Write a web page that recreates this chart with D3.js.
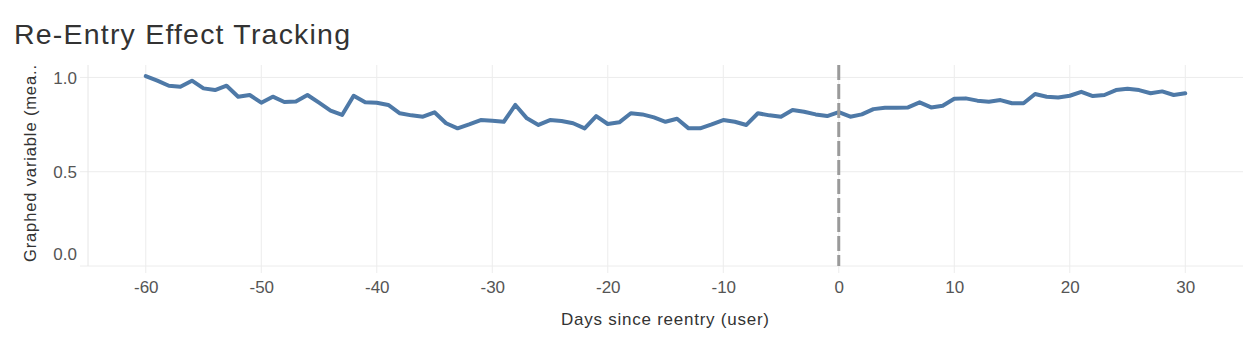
<!DOCTYPE html>
<html>
<head>
<meta charset="utf-8">
<script src="https://cdn.jsdelivr.net/npm/d3@7/dist/d3.min.js"></script>
<style>
  html, body { margin: 0; padding: 0; background: #fff; }
  svg { display: block; font-family: "Liberation Sans", Arial, Helvetica, sans-serif; }
</style>
</head>
<body>
<svg id="chart" width="1248" height="346"></svg>
<script>
// Day offsets relative to the re-entry date
const days = d3.range(-60, 31);

// Tracked value for each day (-60 .. 30)
const values = [
  1.007, 0.983, 0.956, 0.951, 0.983, 0.942, 0.933, 0.956, 0.898, 0.907,
  0.866, 0.898, 0.870, 0.873, 0.907, 0.866, 0.824, 0.801, 0.903, 0.868,
  0.866, 0.854, 0.810, 0.799, 0.792, 0.815, 0.757, 0.730, 0.751, 0.774,
  0.770, 0.765, 0.854, 0.783, 0.748, 0.774, 0.769, 0.757, 0.730, 0.795,
  0.753, 0.762, 0.810, 0.804, 0.788, 0.765, 0.781, 0.730, 0.730, 0.751,
  0.774, 0.765, 0.748, 0.810, 0.799, 0.792, 0.827, 0.818, 0.804, 0.795,
  0.816, 0.792, 0.804, 0.832, 0.839, 0.839, 0.841, 0.868, 0.841, 0.850,
  0.887, 0.889, 0.877, 0.871, 0.880, 0.863, 0.863, 0.912, 0.898, 0.894,
  0.903, 0.924, 0.901, 0.907, 0.933, 0.940, 0.933, 0.916, 0.926, 0.907,
  0.916
];

const xTicks = [-60, -50, -40, -30, -20, -10, 0, 10, 20, 30];
const yTicks = [0.0, 0.5, 1.0];
const reentryDay = 0;

const titleText = "Re-Entry Effect Tracking";
const xTitle = "Days since reentry (user)";
const yTitle = "Graphed variable (mea..";

const data = days.map((d, i) => ({ day: d, value: values[i] }));

const svg = d3.select("#chart");
const plot = { left: 88, right: 1243, top: 65, bottom: 266 };

const x = d3.scaleLinear().domain([-65, 35]).range([plot.left, plot.right]);
const y = d3.scaleLinear().domain([0, 1.066]).range([plot.bottom, plot.top]);

// Plain hyphen for negative numbers
const fmtDay = d => String(d);

// Title
svg.append("text")
  .attr("x", 14).attr("y", 44)
  .attr("font-size", 28.5)
  .attr("textLength", 336).attr("lengthAdjust", "spacing")
  .attr("fill", "#333")
  .text(titleText);

// Vertical grid lines (extend below the plot as tick marks)
svg.append("g")
  .selectAll("line")
  .data(xTicks)
  .join("line")
  .attr("x1", d => x(d)).attr("x2", d => x(d))
  .attr("y1", plot.top).attr("y2", plot.bottom + 7)
  .attr("stroke", "#ececec").attr("stroke-width", 1);

// Horizontal grid lines (extend left of the plot as tick marks)
svg.append("g")
  .selectAll("line")
  .data(yTicks)
  .join("line")
  .attr("x1", plot.left - 8).attr("x2", plot.right)
  .attr("y1", d => y(d)).attr("y2", d => y(d))
  .attr("stroke", "#ececec").attr("stroke-width", 1);

// Left axis rule
svg.append("line")
  .attr("x1", plot.left).attr("x2", plot.left)
  .attr("y1", plot.top).attr("y2", plot.bottom)
  .attr("stroke", "#e6e6e6").attr("stroke-width", 1);

// X tick labels
const xAxis = d3.axisBottom(x).tickValues(xTicks).tickSize(0).tickPadding(0)
  .tickFormat(fmtDay);
const gx = svg.append("g").attr("transform", `translate(0,${plot.bottom})`).call(xAxis);
gx.select(".domain").remove();
gx.selectAll("text")
  .attr("y", 27).attr("dy", 0)
  .attr("font-size", 17)
  .attr("font-family", "Liberation Sans, Arial, sans-serif")
  .attr("fill", "#555");

// Y tick labels (the bottom label sits just above its grid line)
const yAxis = d3.axisLeft(y).tickValues(yTicks).tickSize(0).tickPadding(0)
  .tickFormat(d3.format(".1f"));
const gy = svg.append("g").attr("transform", `translate(${plot.left - 11},0)`).call(yAxis);
gy.select(".domain").remove();
gy.selectAll("text")
  .attr("dy", d => d === 0 ? "-0.4em" : "0.36em")
  .attr("font-size", 17)
  .attr("font-family", "Liberation Sans, Arial, sans-serif")
  .attr("fill", "#555");

// Axis titles
svg.append("text")
  .attr("x", 665).attr("y", 325)
  .attr("text-anchor", "middle")
  .attr("font-size", 17)
  .attr("textLength", 208).attr("lengthAdjust", "spacing")
  .attr("fill", "#333")
  .text(xTitle);

svg.append("text")
  .attr("transform", "translate(36,262) rotate(-90)")
  .attr("font-size", 16.5)
  .attr("textLength", 197).attr("lengthAdjust", "spacing")
  .attr("fill", "#333")
  .text(yTitle);

// Series line
const line = d3.line().x(d => x(d.day)).y(d => y(d.value));
svg.append("path")
  .datum(data)
  .attr("d", line)
  .attr("fill", "none")
  .attr("stroke", "#4e79a7")
  .attr("stroke-width", 4)
  .attr("stroke-linejoin", "round")
  .attr("stroke-linecap", "round");

// Re-entry reference line
svg.append("line")
  .attr("x1", x(reentryDay)).attr("x2", x(reentryDay))
  .attr("y1", plot.top).attr("y2", plot.bottom)
  .attr("stroke", "#9a9a9a")
  .attr("stroke-width", 3)
  .attr("stroke-dasharray", "15,4");
</script>
</body>
</html>
